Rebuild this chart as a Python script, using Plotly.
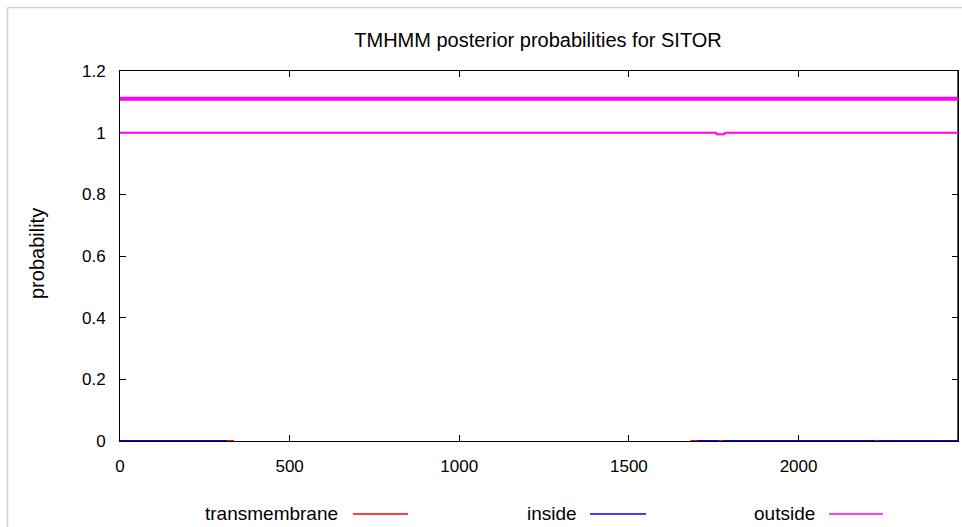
import plotly.graph_objects as go

# ---- data ----
seq_len = 2470
title_text = "TMHMM posterior probabilities for SITOR"

# predicted topology line (all outside) drawn above the plot
topo_x = [0, 2470]
topo_y = [1.11, 1.11]

# posterior probability of "outside"
outside_x = [0, 1757, 1759, 1781, 1783, 2470]
outside_y = [1.0, 1.0, 0.995, 0.995, 1.0, 1.0]

# posterior probability of "inside" (only visible near zero)
inside_x = [0, 316, None, 1701, 2470]
inside_y = [0.0, 0.0, None, 0.0, 0.0]

# posterior probability of "transmembrane" (tiny blips near zero)
tm_x = [316, 336, None, 1681, 1701, None, 1765, 1777, None, 2226, 2236]
tm_y = [0.0, 0.0, None, 0.0, 0.0, None, 0.0, 0.0, None, 0.0, 0.0]

x_ticks = [0, 500, 1000, 1500, 2000]
y_ticks = [0, 0.2, 0.4, 0.6, 0.8, 1.0, 1.2]
y_ticktext = ["0", "0.2", "0.4", "0.6", "0.8", "1", "1.2"]

legend_names = ["transmembrane", "inside", "outside"]
colors = {"transmembrane": "#ff0000", "inside": "#0000ff", "outside": "#ff00ff"}

# ---- layout geometry (pixels) ----
W, H = 962, 527
L, R, T, B = 120, 4, 71, 86
pw, ph = W - L - R, H - T - B

def px_x(p):
    return (p - L) / pw

def px_y(p):
    return (H - B - p) / ph

FONT = "Liberation Sans"

fig = go.Figure()
fig.add_trace(go.Scatter(x=topo_x, y=topo_y, mode="lines",
                         line=dict(color=colors["outside"], width=4),
                         showlegend=False, hoverinfo="skip"))
fig.add_trace(go.Scatter(x=inside_x, y=inside_y, mode="lines",
                         line=dict(color=colors["inside"], width=2),
                         name="inside", showlegend=False, connectgaps=False))
fig.add_trace(go.Scatter(x=tm_x, y=tm_y, mode="lines",
                         line=dict(color=colors["transmembrane"], width=2),
                         name="transmembrane", showlegend=False, connectgaps=False))
fig.add_trace(go.Scatter(x=outside_x, y=outside_y, mode="lines",
                         line=dict(color=colors["outside"], width=2),
                         name="outside", showlegend=False))

shapes = []
annotations = []

# outer light frame (left and top)
shapes.append(dict(type="line", xref="paper", yref="paper",
                   x0=px_x(7.5), x1=px_x(7.5), y0=px_y(7.5), y1=px_y(H + 2),
                   line=dict(color="#d2d2d2", width=1.5)))
shapes.append(dict(type="line", xref="paper", yref="paper",
                   x0=px_x(7.5), x1=px_x(W + 2), y0=px_y(7.5), y1=px_y(7.5),
                   line=dict(color="#d2d2d2", width=1.5)))
# darker right edge of the plot box
shapes.append(dict(type="line", xref="paper", yref="paper",
                   x0=1, x1=1, y0=0, y1=1, layer="below",
                   line=dict(color="#555555", width=2)))

# bottom legend: text followed by a line sample
legend_text_right = [340, 579, 817]
legend_line = [(353, 408), (590, 646), (829, 883)]
for name, tr, (a, b) in zip(legend_names, legend_text_right, legend_line):
    annotations.append(dict(text=name, xref="paper", yref="paper",
                            x=px_x(tr), y=px_y(513), xanchor="right", yanchor="middle",
                            showarrow=False, font=dict(family=FONT, size=19, color="#000")))
    shapes.append(dict(type="line", xref="paper", yref="paper",
                       x0=px_x(a), x1=px_x(b), y0=px_y(514), y1=px_y(514),
                       line=dict(color=colors[name], width=1.5)))

# y axis label
annotations.append(dict(text="probability", xref="paper", yref="paper",
                        x=px_x(37), y=px_y(254), xanchor="center", yanchor="middle",
                        textangle=-90, showarrow=False,
                        font=dict(family=FONT, size=20, color="#000")))

fig.update_layout(
    width=W, height=H,
    margin=dict(l=L, r=R, t=T, b=B, autoexpand=False),
    paper_bgcolor="white", plot_bgcolor="white",
    title=dict(text=title_text, x=538 / W, xanchor="center",
               y=1 - 40 / H, yanchor="middle", yref="container",
               font=dict(family=FONT, size=20, color="#000")),
    showlegend=False,
    shapes=shapes, annotations=annotations,
    font=dict(family=FONT, size=17, color="#000"),
)
fig.update_xaxes(range=[0, seq_len], tickvals=x_ticks, ticktext=[str(v) for v in x_ticks],
                 ticks="inside", ticklen=6, tickwidth=1, tickcolor="#000",
                 showline=True, linecolor="#000", linewidth=1, mirror="ticks",
                 showgrid=False, zeroline=False, layer="below traces",
                 ticklabelstandoff=10,
                 tickfont=dict(family=FONT, size=17, color="#000"))
fig.update_yaxes(range=[0, 1.2], tickvals=y_ticks, ticktext=y_ticktext,
                 ticks="inside", ticklen=6, tickwidth=1, tickcolor="#000",
                 showline=True, linecolor="#000", linewidth=1, mirror="ticks",
                 showgrid=False, zeroline=False, layer="below traces",
                 ticklabelstandoff=10,
                 tickfont=dict(family=FONT, size=17, color="#000"))

fig.write_html("out.html")
